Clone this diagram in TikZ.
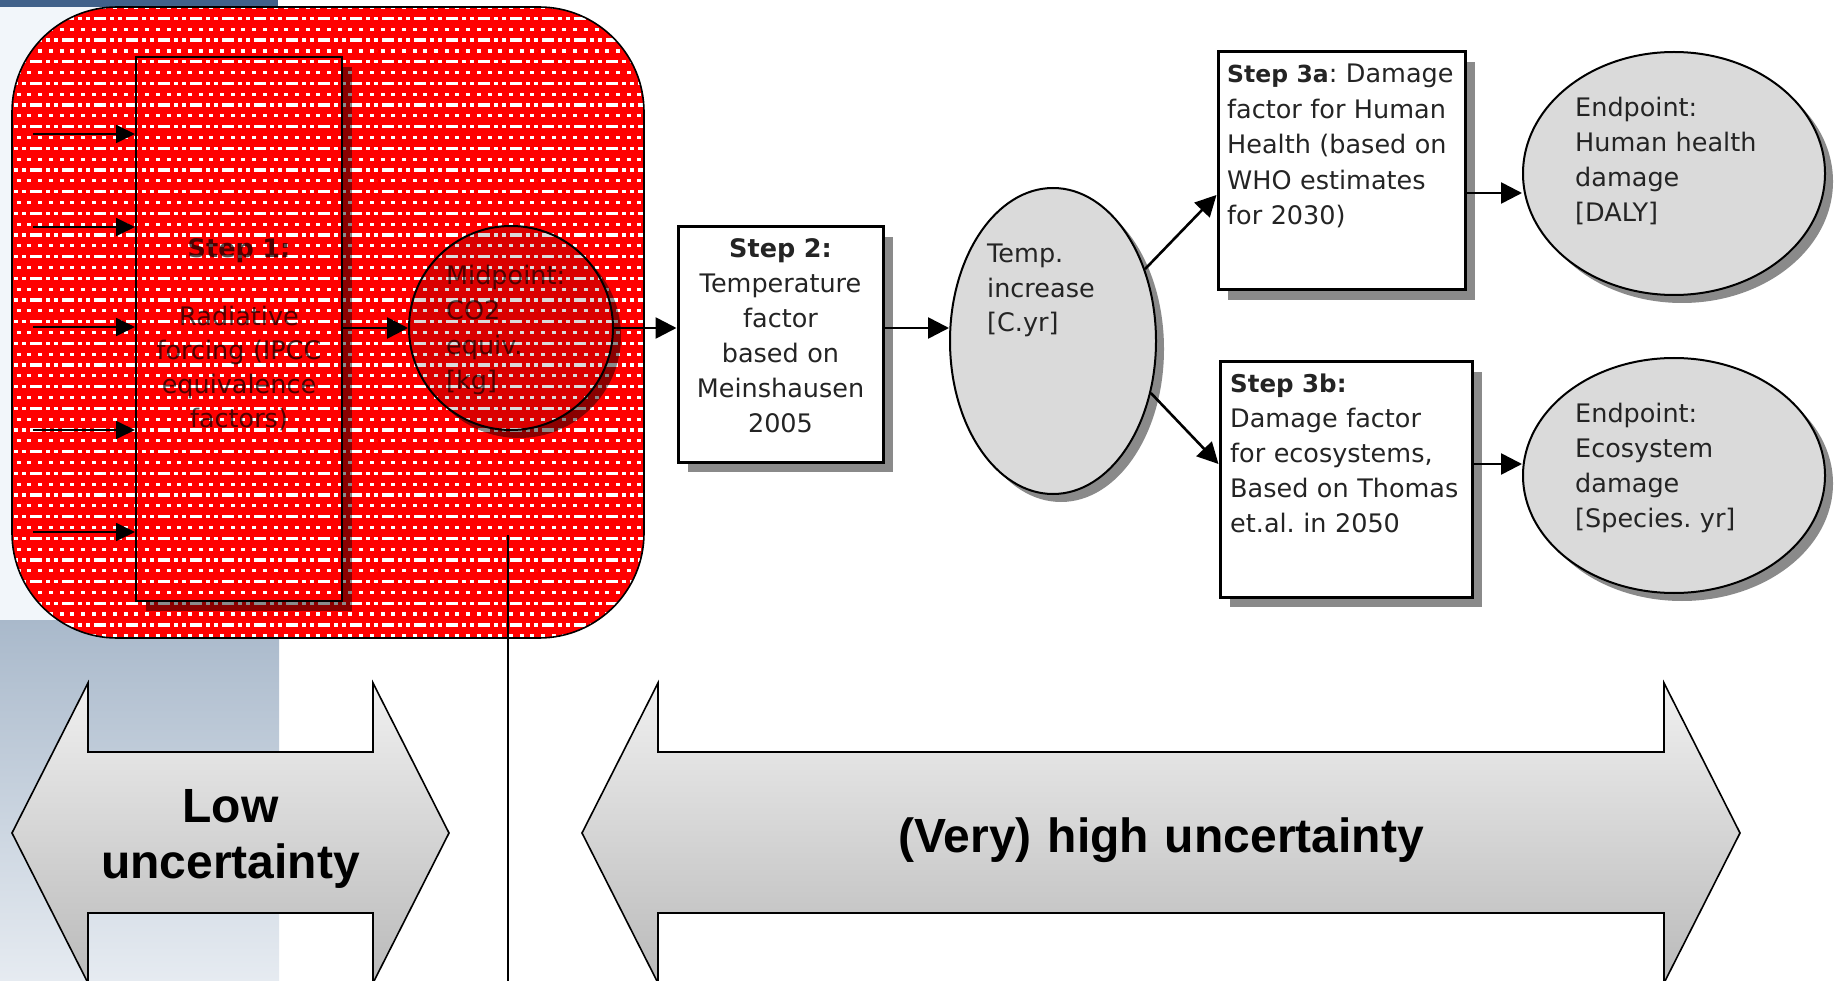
\documentclass[tikz,border=0pt]{standalone}
\usepackage{fontspec}
\setmainfont{DejaVu Sans}
\newfontfamily\bigfont{Liberation Sans}
\usetikzlibrary{arrows.meta,shapes.geometric,shadows}
\frenchspacing
\definecolor{redov}{HTML}{FF0000}
\definecolor{ovalfill}{HTML}{DADADA}
\definecolor{shadowgray}{HTML}{8A8A8A}
\definecolor{textcol}{HTML}{242424}
\definecolor{fadedtext}{HTML}{505050}
\definecolor{darkbar}{HTML}{41618A}
\definecolor{panelA}{HTML}{A9B9CB}
\definecolor{panelB}{HTML}{E6EBF1}
\definecolor{panellight}{HTML}{F2F6FA}
\definecolor{bigtop}{HTML}{F0F0F0}
\definecolor{bigbot}{HTML}{BABABA}
\tikzset{
  box/.style={rectangle, draw=black, line width=3pt, fill=white, inner sep=0pt,
    drop shadow={shadow xshift=10pt, shadow yshift=-10pt, fill=shadowgray, opacity=1}},
  oval/.style={ellipse, draw=black, line width=2pt, fill=ovalfill, inner sep=0pt,
    drop shadow={shadow xshift=8pt, shadow yshift=-8pt, fill=shadowgray, opacity=1}},
  txt/.style={font=\fontsize{25.5}{35}\selectfont, text=textcol, inner sep=0pt, text width=262pt},
  txtl/.style={txt, align=left, anchor=base west},
  txtc/.style={txt, align=center, anchor=base},
  arr/.style={-{Triangle[length=21pt,width=21pt]}, line width=2.6pt, draw=black},
  arrin/.style={-{Triangle[length=19pt,width=18pt]}, line width=1.8pt, draw=black},
  bigarrow/.style={draw=black, line width=1.6pt, top color=bigtop, bottom color=bigbot},
  bigtxt/.style={font=\bigfont\bfseries\fontsize{48}{56}\selectfont, align=center, anchor=base, text width=600pt, inner sep=0pt, text=black},
}
\begin{document}
\begin{tikzpicture}[x=1pt,y=-1pt]
\useasboundingbox (0,0) rectangle (1837,981);
% background
\fill[white] (0,0) rectangle (1837,981);
\fill[panellight] (0,7) rectangle (279,620);
\shade[top color=panelA, bottom color=panelB] (0,620) rectangle (279,981);
\fill[darkbar] (0,0) rectangle (278,7);
\fill[white, rounded corners=105pt] (12,7) rectangle (644,638);

% nodes
\node[box, line width=2pt, minimum width=206pt, minimum height=544pt] (s1) at (239,329) {};
\node[oval, minimum width=204pt, minimum height=204pt] (mid) at (511,328) {};
\node[box, minimum width=205pt, minimum height=235pt] (s2) at (780.5,344.5) {};
\node[oval, minimum width=206pt, minimum height=306pt] (temp) at (1053,341) {};
\node[box, minimum width=247pt, minimum height=238pt] (s3a) at (1341.5,171) {};
\node[box, minimum width=252pt, minimum height=235pt] (s3b) at (1346,479.5) {};
\node[oval, minimum width=302pt, minimum height=243pt] (e1) at (1674,173.5) {};
\node[oval, minimum width=302pt, minimum height=235pt] (e2) at (1674,475.5) {};

% texts
\node[txtc, text=fadedtext, font=\fontsize{25.5}{34}\selectfont] (t1) at (239,258) {\textbf{Step 1:}\\[34pt]Radiative\\forcing (IPCC\\equivalence\\factors)};
\node[txtl, text=fadedtext, font=\fontsize{25.5}{35}\selectfont] (tm) at (446,285) {Midpoint:\\CO2\\equiv.\\{[kg]}};
\node[txtc] (t2) at (780.5,258) {\textbf{Step 2:}\\Temperature\\factor\\based on\\Meinshausen\\2005};
\node[txtl, font=\fontsize{25.5}{34.5}\selectfont] (tt) at (987,263) {Temp.\\increase\\{[C.yr]}};
\node[txtl, font=\fontsize{25.5}{35.5}\selectfont] (t3a) at (1227,83) {{\fontsize{23.5}{35.5}\selectfont\textbf{Step 3a}}: Damage\\factor for Human\\Health (based on\\WHO estimates\\for 2030)};
\node[txtl] (t3b) at (1230,393) {{\fontsize{24.5}{35}\selectfont\textbf{Step 3b:}}\\Damage factor\\for ecosystems,\\Based on Thomas\\et.al. in 2050};
\node[txtl] (te1) at (1575,117) {Endpoint:\\Human health\\damage\\{[DALY]}};
\node[txtl] (te2) at (1575,423) {Endpoint:\\Ecosystem\\damage\\{[Species. yr]}};

% input arrows
\coordinate (in1) at (33,134);
\coordinate (in2) at (33,227);
\coordinate (in3) at (33,327);
\coordinate (in4) at (33,430);
\coordinate (in5) at (33,532);
\foreach \c in {in1,in2,in3,in4,in5}{
  \draw[arrin] (\c) -- (\c -| s1.west);
}
% connectors
\draw[arr] (s1.east |- mid.west) -- (mid.west);
\draw[arr] (mid.east) -- (mid.east -| s2.west);
\draw[arr] (s2.east |- mid.east) -- (temp.west |- mid.east);
\draw[arr] (temp.38) -- ([yshift=-24pt]s3a.west);
\draw[arr] (temp.-28) -- ([yshift=15.5pt]s3b.west);
\coordinate (h1) at (1500,193);
\coordinate (h2) at (1500,464);
\draw[arr] (s3a.east |- h1) -- (e1.west |- h1);
\draw[arr] (s3b.east |- h2) -- (e2.west |- h2);

% red striped overlay (multiplied over the faded content)
\begin{scope}[blend mode=multiply]
  \clip[rounded corners=105pt] (12,7) rectangle (644,638);
  \foreach \k in {0,...,58}{
    \pgfmathsetmacro{\yw}{6+10.83*\k}
    \fill[redov] (10,\yw+3.2) rectangle (646,\yw+10.83);
    \ifodd\k
      \draw[redov, line width=3.2pt, dash pattern=on 4pt off 4pt on 4pt off 4pt on 4pt off 12pt] (10,\yw+1.6) -- (646,\yw+1.6);
    \else
      \draw[redov, line width=3.2pt, dash pattern=on 6.7pt off 4pt] (10,\yw+1.6) -- (646,\yw+1.6);
    \fi
  }
\end{scope}
\draw[black, line width=1.6pt, rounded corners=105pt] (12,7) rectangle (644,638);

% vertical divider
\coordinate (vtop) at (508,535);
\coordinate (vbot) at (508,981);
\draw[black, line width=1.4pt] (vtop) -- (vbot);

% big double arrows
\draw[bigarrow] (12,833) -- (88,683) -- (88,752) -- (373,752) -- (373,683) -- (449,833) -- (373,983) -- (373,913) -- (88,913) -- (88,983) -- cycle;
\draw[bigarrow] (582,833) -- (658,683) -- (658,752) -- (1664,752) -- (1664,683) -- (1740,833) -- (1664,983) -- (1664,913) -- (658,913) -- (658,983) -- cycle;
\node[bigtxt] (lowt) at (230.5,822) {Low\\uncertainty};
\node[bigtxt] (hight) at (1161,852) {(Very) high uncertainty};
\end{tikzpicture}
\end{document}
